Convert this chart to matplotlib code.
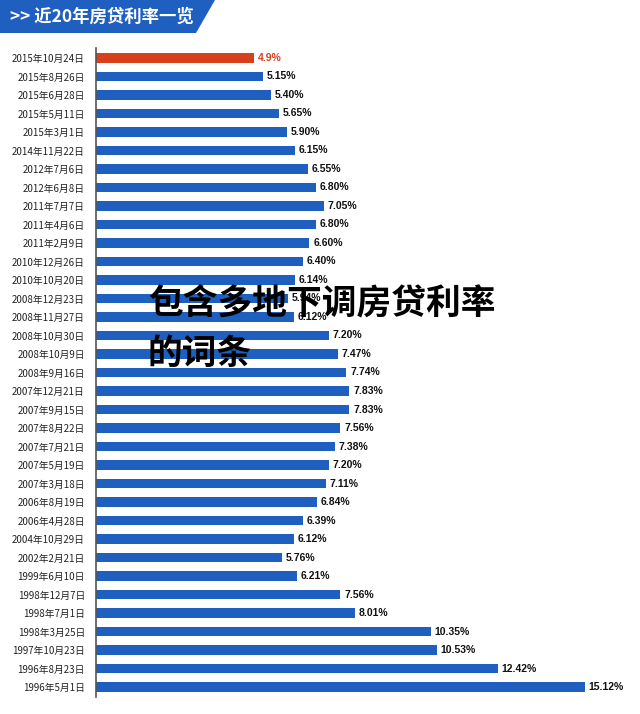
import matplotlib
matplotlib.use("Agg")
import matplotlib.pyplot as plt
from matplotlib.patches import Polygon

plt.rcParams['font.family'] = ['Noto Sans CJK SC', 'DejaVu Sans']

dates = ["2015年10月24日", "2015年8月26日", "2015年6月28日", "2015年5月11日", "2015年3月1日",
         "2014年11月22日", "2012年7月6日", "2012年6月8日", "2011年7月7日", "2011年4月6日",
         "2011年2月9日", "2010年12月26日", "2010年10月20日", "2008年12月23日", "2008年11月27日",
         "2008年10月30日", "2008年10月9日", "2008年9月16日", "2007年12月21日", "2007年9月15日",
         "2007年8月22日", "2007年7月21日", "2007年5月19日", "2007年3月18日", "2006年8月19日",
         "2006年4月28日", "2004年10月29日", "2002年2月21日", "1999年6月10日", "1998年12月7日",
         "1998年7月1日", "1998年3月25日", "1997年10月23日", "1996年8月23日", "1996年5月1日"]
rates = [4.90, 5.15, 5.40, 5.65, 5.90, 6.15, 6.55, 6.80, 7.05, 6.80,
         6.60, 6.40, 6.14, 5.94, 6.12, 7.20, 7.47, 7.74, 7.83, 7.83,
         7.56, 7.38, 7.20, 7.11, 6.84, 6.39, 6.12, 5.76, 6.21, 7.56,
         8.01, 10.35, 10.53, 12.42, 15.12]
labels = ["4.9%", "5.15%", "5.40%", "5.65%", "5.90%", "6.15%", "6.55%", "6.80%", "7.05%", "6.80%",
          "6.60%", "6.40%", "6.14%", "5.94%", "6.12%", "7.20%", "7.47%", "7.74%", "7.83%", "7.83%",
          "7.56%", "7.38%", "7.20%", "7.11%", "6.84%", "6.39%", "6.12%", "5.76%", "6.21%", "7.56%",
          "8.01%", "10.35%", "10.53%", "12.42%", "15.12%"]

title = ">> 近20年房贷利率一览"
overlay = ["包含多地下调房贷利率", "的词条"]

BLUE = "#1f5fbf"
RED = "#d8401c"

fig = plt.figure(figsize=(6.4, 7.14), dpi=100)
fig.patch.set_facecolor("white")
ax = fig.add_axes([96/640, 1-697/714, 544/640, (697-48)/714])

n = len(rates)
ypos = list(range(n))
colors = [RED] + [BLUE]*(n-1)
ax.barh(ypos, rates, height=0.52, color=colors)
for y, v, lab, c in zip(ypos, rates, labels, colors):
    ax.text(v + 0.12, y, lab, va="center", ha="left", fontsize=7.5,
            color=(RED if c == RED else "#111111"), fontweight="bold",
            family=['Liberation Sans', 'DejaVu Sans'])

ax.set_ylim(n - 1 + 0.54, -0.54)
ax.set_xlim(0, 544/32.34)
ax.set_yticks(ypos)
ax.set_yticklabels(dates, fontsize=7.0, color="#222222")
ax.tick_params(axis="y", length=0, pad=8)
ax.set_xticks([])
for s in ["top", "right", "bottom"]:
    ax.spines[s].set_visible(False)
ax.spines["left"].set_color("#555555")
ax.spines["left"].set_linewidth(1.2)

# Title banner
fig.patches.append(Polygon([[0, 1], [215/640, 1], [196/640, 1-33/714], [0, 1-33/714]],
                           closed=True, transform=fig.transFigure, facecolor=BLUE,
                           edgecolor="none"))
fig.text(10/640, 1-17/714, title, color="white", fontsize=12.5, va="center", ha="left",
         fontweight="bold")

# overlay text
fig.text(148/640, 1-303/714, overlay[0], fontsize=25, fontweight="heavy", color="black",
         va="center", ha="left")
fig.text(148/640, 1-353/714, overlay[1], fontsize=25, fontweight="heavy", color="black",
         va="center", ha="left")

fig.savefig("out.png", dpi=100, facecolor="white")
